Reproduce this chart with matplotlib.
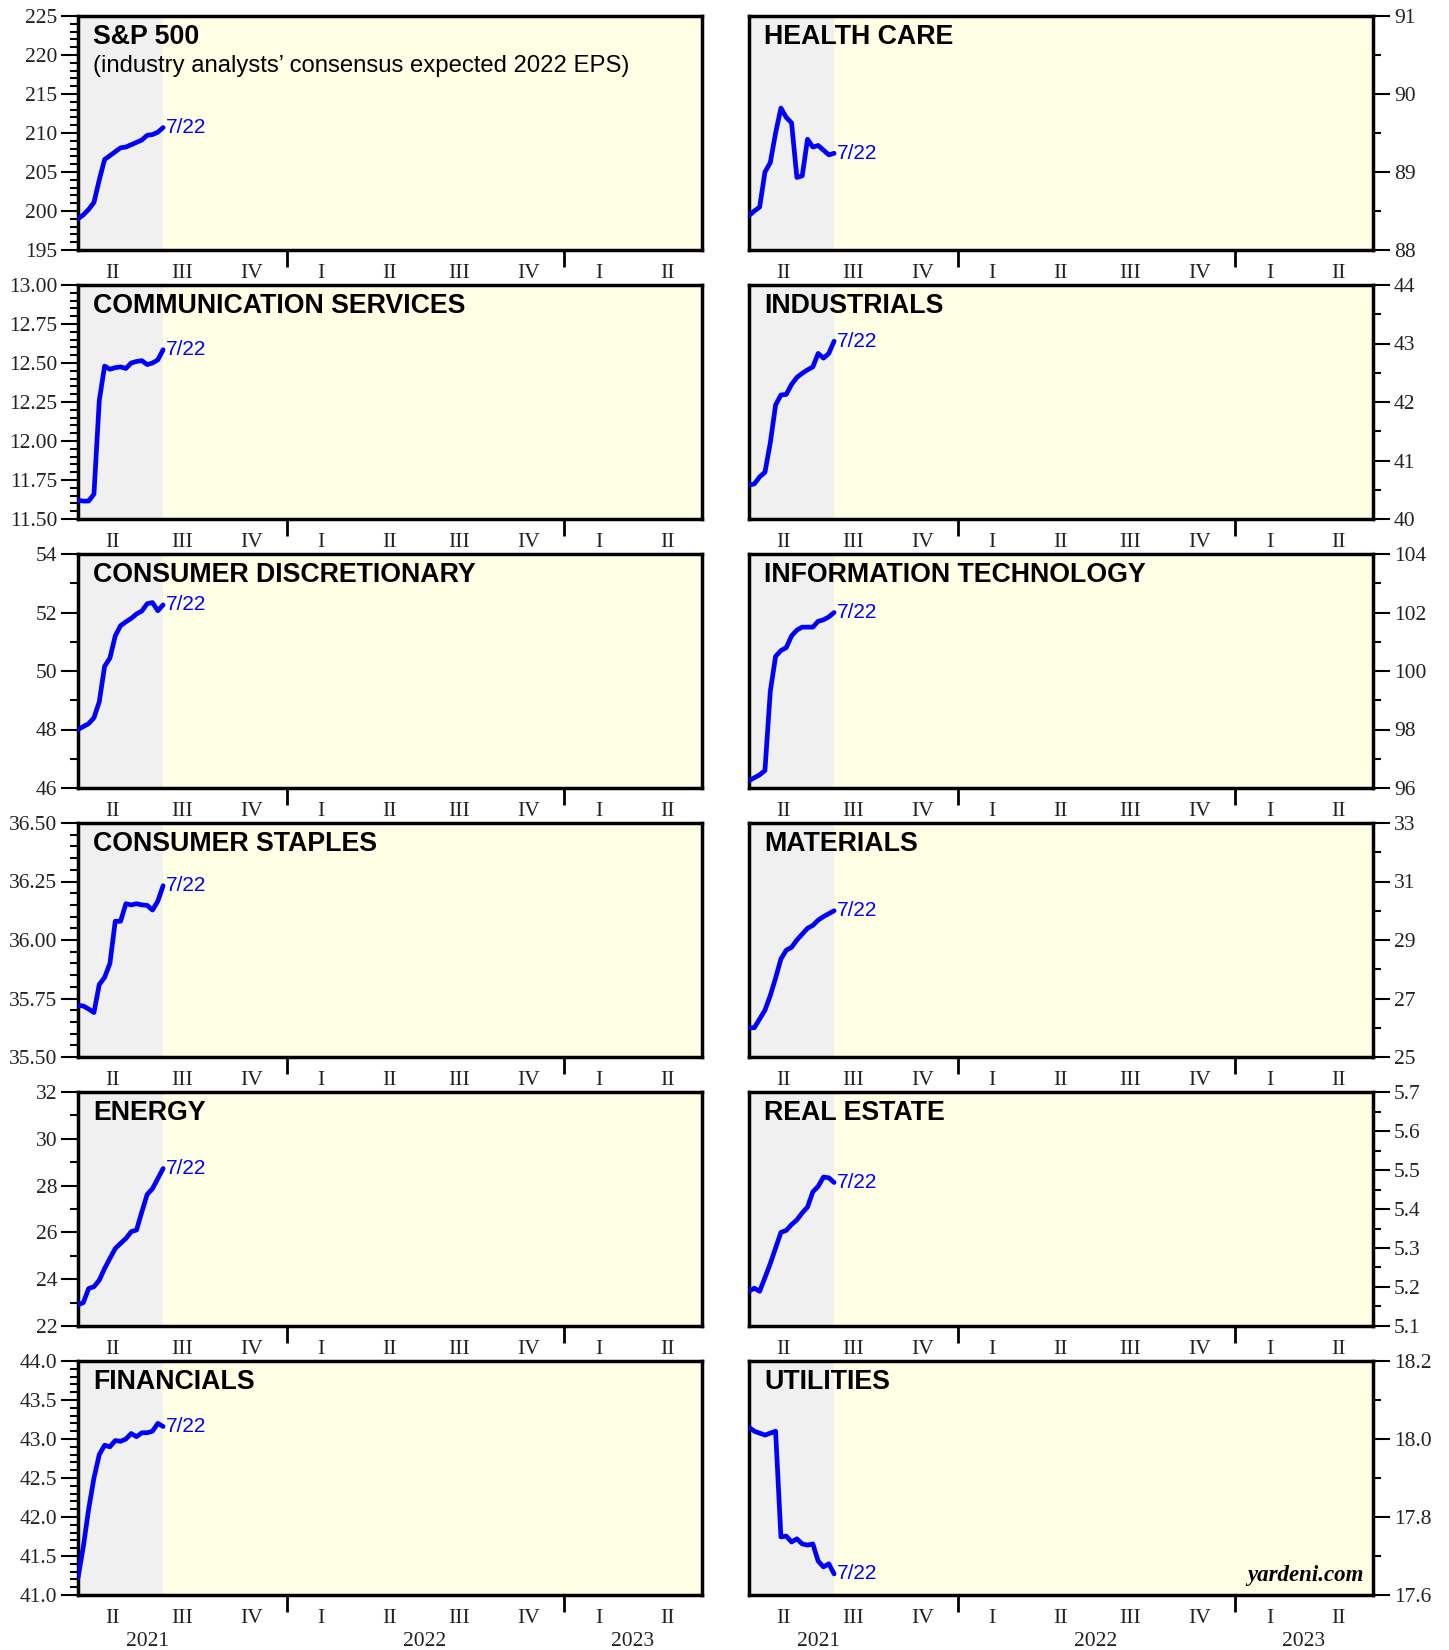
import numpy as np
import pandas as pd
import matplotlib
matplotlib.use('Agg')
import matplotlib.pyplot as plt
import matplotlib.dates as mdates
import matplotlib.transforms as mtransforms
from matplotlib.ticker import FormatStrFormatter, FixedLocator, NullFormatter

# weekly consensus 2022 EPS estimates, Apr 1 to Jul 22 2021
dates = pd.date_range('2021-04-01', '2021-07-22', freq='7D')

sp500 = [199.0, 199.5, 200.2, 201.1, 204.0, 206.6, 207.1, 207.6, 208.1, 208.2, 208.5, 208.8, 209.1, 209.7, 209.8, 210.1, 210.7]
comm_services = [11.62, 11.615, 11.615, 11.66, 12.26, 12.48, 12.46, 12.47, 12.475, 12.465, 12.50, 12.51, 12.515, 12.49, 12.50, 12.52, 12.585]
cons_discr = [48.0, 48.1, 48.2, 48.4, 48.95, 50.16, 50.44, 51.2, 51.55, 51.68, 51.8, 51.95, 52.05, 52.3, 52.34, 52.06, 52.26]
cons_staples = [35.72, 35.718, 35.705, 35.69, 35.81, 35.84, 35.90, 36.08, 36.08, 36.155, 36.15, 36.155, 36.15, 36.148, 36.128, 36.166, 36.232]
energy = [22.9, 23.0, 23.6, 23.68, 23.96, 24.46, 24.89, 25.31, 25.53, 25.74, 26.03, 26.1, 26.88, 27.62, 27.87, 28.3, 28.73]
financials = [41.22, 41.62, 42.1, 42.5, 42.8, 42.92, 42.9, 42.98, 42.97, 43.0, 43.07, 43.03, 43.08, 43.08, 43.1, 43.2, 43.16]
health_care = [88.44, 88.5, 88.55, 89.0, 89.12, 89.5, 89.82, 89.70, 89.63, 88.93, 88.95, 89.42, 89.32, 89.34, 89.28, 89.22, 89.24]
industrials = [40.58, 40.6, 40.72, 40.8, 41.3, 41.95, 42.12, 42.13, 42.3, 42.42, 42.49, 42.55, 42.6, 42.83, 42.75, 42.83, 43.04]
info_tech = [96.25, 96.35, 96.45, 96.6, 99.3, 100.5, 100.7, 100.8, 101.2, 101.4, 101.5, 101.5, 101.5, 101.7, 101.75, 101.85, 102.0]
materials = [26.0, 26.0, 26.3, 26.6, 27.1, 27.7, 28.35, 28.65, 28.75, 29.0, 29.2, 29.4, 29.5, 29.68, 29.8, 29.9, 30.0]
real_estate = [5.189, 5.197, 5.189, 5.224, 5.26, 5.3, 5.34, 5.345, 5.36, 5.372, 5.39, 5.405, 5.444, 5.458, 5.482, 5.48, 5.468]
utilities = [18.03, 18.02, 18.015, 18.01, 18.015, 18.02, 17.749, 17.751, 17.736, 17.744, 17.731, 17.728, 17.731, 17.687, 17.672, 17.68, 17.654]

left_titles = ['S&P 500', 'COMMUNICATION SERVICES', 'CONSUMER DISCRETIONARY',
               'CONSUMER STAPLES', 'ENERGY', 'FINANCIALS']
right_titles = ['HEALTH CARE', 'INDUSTRIALS', 'INFORMATION TECHNOLOGY',
                'MATERIALS', 'REAL ESTATE', 'UTILITIES']
left_series = [sp500, comm_services, cons_discr, cons_staples, energy, financials]
right_series = [health_care, industrials, info_tech, materials, real_estate, utilities]

# (ymin, ymax, major step, minor step, label format)
left_scales = [(195, 225, 5, 1, '%d'), (11.5, 13.0, 0.25, 0.05, '%.2f'),
               (46, 54, 2, 1, '%d'), (35.5, 36.5, 0.25, 0.05, '%.2f'),
               (22, 32, 2, 1, '%d'), (41.0, 44.0, 0.5, 0.1, '%.1f')]
right_scales = [(88, 91, 1, 0.5, '%d'), (40, 44, 1, 0.5, '%d'),
                (96, 104, 2, 1, '%d'), (25, 33, 2, 1, '%d'),
                (5.1, 5.7, 0.1, 0.05, '%.1f'), (17.6, 18.2, 0.2, 0.1, '%.1f')]

quarter_names = ['II', 'III', 'IV', 'I', 'II', 'III', 'IV', 'I', 'II']
quarter_mids = pd.to_datetime(['2021-05-16', '2021-08-16', '2021-11-15',
                               '2022-02-15', '2022-05-16', '2022-08-16', '2022-11-15',
                               '2023-02-15', '2023-05-16'])
year_starts = pd.to_datetime(['2022-01-01', '2023-01-01'])
year_names = ['2021', '2022', '2023']
year_pos = pd.to_datetime(['2021-07-01', '2022-07-01', '2023-04-01'])

x_start = pd.Timestamp('2021-04-01')
x_end = pd.Timestamp('2023-07-01')

SANS = 'Liberation Sans'
SERIF = 'Liberation Serif'
BG = '#ffffe6'
SHADE = '#f0f0f0'

W, H = 1449, 1650
fig = plt.figure(figsize=(W / 100, H / 100), dpi=100)


def draw_panel(ax, title, values, scale, right_side, bottom_row):
    ymin, ymax, major, minor, fmt = scale
    ax.set_facecolor(BG)
    ax.axvspan(x_start, dates[-1], color=SHADE, zorder=0, lw=0)
    ax.plot(dates, values, color='#0000ff', lw=3.4, zorder=3, solid_capstyle='round')
    ax.text(dates[-1] + pd.Timedelta(days=3), values[-1], '7/22', color='#0000ff',
            fontsize=15, family=SANS, va='center', ha='left')
    ax.set_xlim(x_start, x_end)
    ax.set_ylim(ymin, ymax)

    eps = minor * 1e-3
    ax.yaxis.set_major_locator(FixedLocator(np.arange(ymin, ymax + eps, major)))
    ax.yaxis.set_minor_locator(FixedLocator(np.arange(ymin, ymax + eps, minor)))
    ax.yaxis.set_major_formatter(FormatStrFormatter(fmt))
    if right_side:
        ax.yaxis.tick_right()
    else:
        ax.yaxis.tick_left()
    ax.tick_params(axis='y', which='major', length=12, width=1.5, direction='out',
                   labelsize=15.5, pad=3)
    ax.tick_params(axis='y', which='minor', length=6, width=1.5, direction='out')

    ax.xaxis.set_major_locator(FixedLocator(mdates.date2num(year_starts)))
    ax.xaxis.set_major_formatter(NullFormatter())
    ax.xaxis.set_minor_locator(FixedLocator(mdates.date2num(quarter_mids)))
    ax.xaxis.set_minor_formatter(plt.FixedFormatter(quarter_names))
    ax.tick_params(axis='x', which='major', length=12, width=2, direction='out')
    ax.tick_params(axis='x', which='minor', length=0, labelsize=15.5, pad=10)

    for lab in ax.get_yticklabels() + ax.get_xticklabels(minor=True):
        lab.set_family(SERIF)
        lab.set_color('#222222')

    for sp in ax.spines.values():
        sp.set_linewidth(2.5)

    ax.text(0.024, 0.965, title, transform=ax.transAxes, fontsize=19.3,
            fontweight='bold', family=SANS, va='top', ha='left')

    if bottom_row:
        trans = mtransforms.blended_transform_factory(ax.transData, ax.transAxes)
        for name, pos in zip(year_names, year_pos):
            ax.text(pos, -0.158, name, transform=trans, fontsize=15.5, family=SERIF,
                    ha='center', va='top', color='#222222')


pw, ph = 624, 234
for i in range(6):
    bottom = 250 + 269 * i
    y0 = 1 - bottom / H
    axl = fig.add_axes([78 / W, y0, pw / W, ph / H])
    draw_panel(axl, left_titles[i], left_series[i], left_scales[i], False, i == 5)
    axr = fig.add_axes([749 / W, y0, pw / W, ph / H])
    draw_panel(axr, right_titles[i], right_series[i], right_scales[i], True, i == 5)
    if i == 0:
        axl.text(0.024, 0.835, '(industry analysts\u2019 consensus expected 2022 EPS)',
                 transform=axl.transAxes, fontsize=17.2, family=SANS, va='top', ha='left')
    if i == 5:
        axr.text(0.985, 0.04, 'yardeni.com', transform=axr.transAxes, fontsize=16.5,
                 family=SERIF, fontweight='bold', style='italic', ha='right', va='bottom')

fig.savefig('out.png', dpi=100, facecolor='white')
